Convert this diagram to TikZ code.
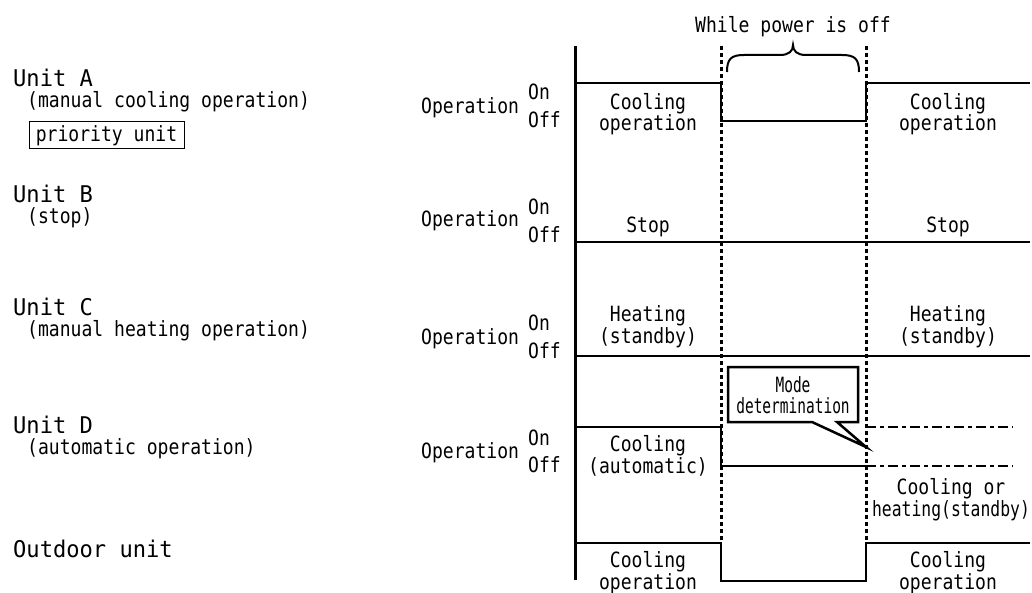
\documentclass[tikz,border=0pt]{standalone}
\usepackage{fontspec}
\setmainfont{DejaVu Sans Mono}[FakeStretch=0.86]
\newfontfamily\unitfont{DejaVu Sans Mono}[FakeStretch=0.96]
\newfontfamily\narrowfont{DejaVu Sans Mono}[FakeStretch=0.69]
\newfontfamily\semifont{DejaVu Sans Mono}[FakeStretch=0.78]
\begin{document}
\begin{tikzpicture}[x=1pt,y=-1pt,
  txt/.style={font=\fontsize{21}{20}\selectfont, inner sep=0pt, anchor=base, align=center},
  lab/.style={font=\fontsize{21}{20}\selectfont, inner sep=0pt, anchor=base west},
  unitlab/.style={font=\unitfont\fontsize{23}{23}\selectfont, inner sep=0pt, anchor=base west},
  wave/.style={line width=2pt, line join=miter},
  pdash/.style={line width=3pt, dash pattern=on 4pt off 3pt},
  ddash/.style={line width=1.6pt, dash pattern=on 10pt off 4pt on 4pt off 4pt},
]
\useasboundingbox (0,0) rectangle (1032,593);

% left column
\node[unitlab] (ua) at (13,87) {Unit A};
\node[lab] (uas) at (27,108) {(manual cooling operation)};
\node[draw, line width=1pt, font=\fontsize{21}{20}\selectfont, inner sep=0pt,
      minimum width=155pt, minimum height=27pt] (prio) at (106.5,135.5) {priority unit};
\node[unitlab] (ub) at (13,203) {Unit B};
\node[lab] (ubs) at (27,224) {(stop)};
\node[unitlab] (uc) at (13,316) {Unit C};
\node[lab] (ucs) at (27,336) {(manual heating operation)};
\node[unitlab] (ud) at (13,433) {Unit D};
\node[lab] (uds) at (27,454) {(automatic operation)};
\node[unitlab] (uo) at (13,557) {Outdoor unit};

% row labels
\foreach \n/\yo/\yon/\yoff in {a/114/100/128, b/227/215/243, c/344/330/358, d/458/445/472}{
  \node[lab] (op\n) at (421,\yo) {Operation};
  \node[lab] (on\n) at (528,\yon) {On};
  \node[lab] (off\n) at (528,\yoff) {Off};
}

% axis and power-off markers
\draw[line width=3pt] (575,46) coordinate (axtop) -- (575,580) coordinate (axbot);
\draw[pdash] (721,46) coordinate (p1top) -- (721,540) coordinate (p1bot);
\draw[pdash] (866,46) coordinate (p2top) -- (866,540) coordinate (p2bot);

% brace and title
\draw[line width=2pt] (727,72) .. controls (727,59) and (731,55) .. (744,55) -- (780,55)
  .. controls (789,55) and (793,51) .. (793,45) .. controls (793,51) and (797,55) .. (806,55)
  -- (842,55) .. controls (855,55) and (859,59) .. (859,72);
\node[txt] (title) at (793,33) {While power is off};

% unit A
\draw[wave] (575,83) -- (721,83) -- (721,121) -- (866,121) -- (866,83) -- (1030,83);
\node[txt] (a1) at (648,131) {Cooling\\operation};
\node[txt] (a2) at (948,131) {Cooling\\operation};

% unit B
\draw[wave] (575,242) -- (1030,242);
\node[txt] (b1) at (648,233) {Stop};
\node[txt] (b2) at (948,233) {Stop};

% unit C
\draw[wave] (575,356) -- (1030,356);
\node[txt] (c1) at (648,343) {Heating\\(standby)};
\node[txt] (c2) at (948,343) {Heating\\(standby)};

% unit D
\draw[wave] (575,427) -- (721,427) -- (721,466) -- (866,466);
\draw[ddash] (866,427) -- (1013,427);
\draw[ddash] (866,466) -- (1013,466);
\node[txt, font=\fontsize{21}{18}\selectfont] (d1) at (648,473) {Cooling\\(automatic)};
\node[txt, font=\fontsize{21}{22}\selectfont] (d2) at (951,516) {Cooling or\\{\semifont heating(standby)}};

% callout
\draw[line width=2.5pt, fill=white, line join=miter] (728,367) -- (858,367) -- (858,422) -- (837,422)
  -- (866,447) coordinate (tip) -- (812,422) -- (728,422) -- cycle;
\node[txt, font=\narrowfont\fontsize{21}{21}\selectfont] (mode) at (793,413) {Mode\\determination};

% outdoor unit
\draw[wave] (575,543) -- (721,543) -- (721,581) -- (866,581) -- (866,543) -- (1030,543);
\node[txt, font=\fontsize{21}{20}\selectfont] (o1) at (648,589) {Cooling\\operation};
\node[txt, font=\fontsize{21}{20}\selectfont] (o2) at (948,589) {Cooling\\operation};
\end{tikzpicture}
\end{document}
